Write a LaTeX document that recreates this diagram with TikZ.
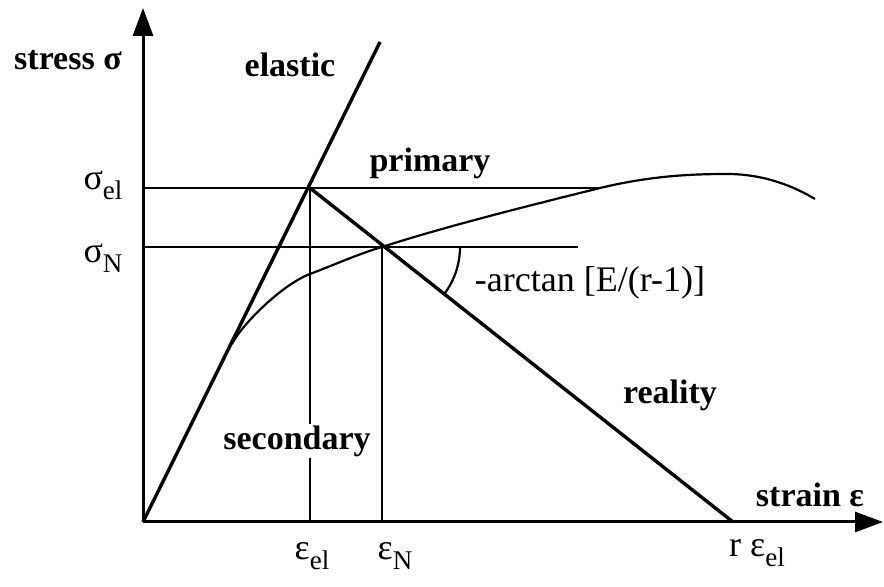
\documentclass[tikz,border=0pt]{standalone}
\usepackage{fontspec}
\setmainfont{Liberation Serif}
\usetikzlibrary{arrows.meta,calc}
\newcommand{\lowsub}[1]{\raisebox{-0.6ex}{\fontsize{13.5}{13.5}\selectfont #1}}

\begin{document}
\begin{tikzpicture}[x=0.5pt, y=-0.5pt,
    axis/.style={line width=1.5pt, -{Triangle[length=14pt, width=10pt]}},
    heavy/.style={line width=1.7pt},
    guide/.style={line width=1.1pt},
    lbl/.style={font=\bfseries\fontsize{17}{20}\selectfont, inner sep=1pt},
    val/.style={font=\fontsize{18}{20}\selectfont, inner sep=1pt}]
    \useasboundingbox (0,0) rectangle (884,587);

    % Key points
    \coordinate (O) at (143,522);
    \coordinate (El) at (310,188);
    \coordinate (N) at (382,247);
    \coordinate (R) at (733,522);

    % Axes
    \draw[axis] (O) -- (143,8);
    \draw[axis] (O) -- (883,522);

    % Guide lines
    \draw[guide] (143,188) -- (600,188);
    \draw[guide] (143,247) -- (578,247);
    \draw[guide] (El) -- (El |- O);
    \draw[guide] (N) -- (N |- O);

    % Elastic and softening lines
    \draw[heavy] (O) -- (380,42);
    \draw[heavy] (El) -- (R);

    % Real response
    \draw[guide] (232,344) .. controls (242,324) and (283,284) .. (310,274)
        .. controls (334,265) and (358,254) .. (N)
        .. controls (450,225) and (540,203) .. (600,188)
        .. controls (650,176) and (690,174) .. (727,174)
        .. controls (765,174) and (795,187) .. (815,199);

    % Angle
    \draw[guide] ($(N)+(78,0)$) arc[start angle=0, end angle=38.3, radius=78];

    % Labels
    \node[lbl] (stress) at (68,60) {stress σ};
    \node[lbl] (strain) at (810,495) {strain ε};
    \node[lbl] (elastic) at (290,65) {elastic};
    \node[lbl] (primary) at (430,163) {primary};
    \node[lbl] (reality) at (670,395) {reality};
    \node[lbl, fill=white] (secondary) at (297,441) {secondary};
    \node[val] (angle) at (590,283) {-arctan [E/(r-1)]};
    \node[val] (sigel) at (103,185) {σ\lowsub{el}};
    \node[val] (sigN) at (103,258) {σ\lowsub{N}};
    \node[val] (epsel) at (312,556) {ε\lowsub{el}};
    \node[val] (epsN) at (395,556) {ε\lowsub{N}};
    \node[val] (repsel) at (757,553) {r ε\lowsub{el}};
\end{tikzpicture}
\end{document}
